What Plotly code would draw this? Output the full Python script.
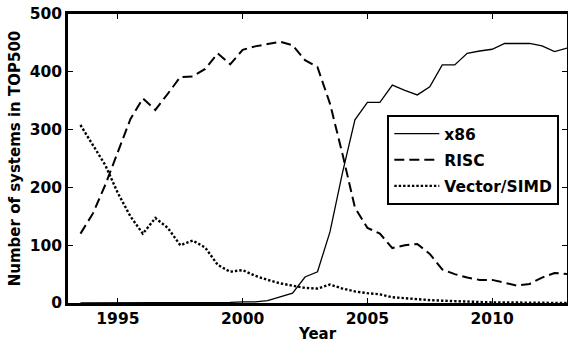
import plotly.graph_objects as go

years = [1993.5, 1994.0, 1994.5, 1995.0, 1995.5, 1996.0, 1996.5, 1997.0, 1997.5, 1998.0,
         1998.5, 1999.0, 1999.5, 2000.0, 2000.5, 2001.0, 2001.5, 2002.0, 2002.5, 2003.0,
         2003.5, 2004.0, 2004.5, 2005.0, 2005.5, 2006.0, 2006.5, 2007.0, 2007.5, 2008.0,
         2008.5, 2009.0, 2009.5, 2010.0, 2010.5, 2011.0, 2011.5, 2012.0, 2012.5, 2013.0]

x86 = [0, 0, 0, 0, 0, 0, 0, 0, 0, 0, 0, 0,
       1, 2, 2, 4, 10, 17, 45, 54, 123, 225, 317, 347, 347, 377, 368, 360, 374, 412,
       412, 432, 436, 439, 449, 449, 449, 445, 435, 441]

risc = [120, 155, 205, 262, 318, 354, 334, 362, 391, 392, 405, 432,
        413, 438, 444, 448, 452, 446, 420, 408, 345, 258, 165, 130, 120, 95, 100, 102, 85, 58,
        50, 44, 40, 40, 35, 30, 33, 44, 52, 50]

vector = [308, 272, 238, 190, 150, 120, 147, 130, 100, 108, 96, 66,
          54, 57, 47, 40, 34, 30, 26, 25, 32, 25, 20, 17, 15, 10, 8, 6, 5, 4,
          3, 2, 1, 1, 1, 1, 0, 0, 0, 0]

y_ticks = [0, 100, 200, 300, 400, 500]
x_ticks = [1995, 2000, 2005, 2010]

FONT = "DejaVu Sans"

fig = go.Figure()
fig.add_trace(go.Scatter(x=years, y=x86, mode="lines", name="x86", legendgroup="a",
                         line=dict(color="black", width=1.3)))
fig.add_trace(go.Scatter(x=years, y=risc, mode="lines", name="RISC", legendgroup="b",
                         line=dict(color="black", width=2, dash="10px,5px")))
fig.add_trace(go.Scatter(x=years, y=vector, mode="lines", name="Vector/SIMD", legendgroup="c",
                         line=dict(color="black", width=2.4, dash="2.4px,2px")))

axis_common = dict(
    showline=True, linecolor="black", linewidth=2.5, mirror="allticks",
    ticks="inside", ticklen=5, tickwidth=1, tickcolor="black",
    showgrid=False, zeroline=False,
    tickfont=dict(family=FONT, size=15.5, color="black", weight="bold"),
)

fig.update_layout(
    width=568, height=343,
    margin=dict(l=68, r=1, t=14, b=40, autoexpand=False),
    paper_bgcolor="white", plot_bgcolor="white",
    font=dict(family=FONT, color="black"),
    xaxis=dict(range=[1993, 2013], tickvals=x_ticks, ticktext=[str(t) for t in x_ticks],
               title=dict(text="Year", standoff=2,
                          font=dict(family=FONT, size=15, color="black", weight="bold")),
               **axis_common),
    yaxis=dict(range=[0, 500], tickvals=y_ticks, ticktext=[str(t) for t in y_ticks],
               title=dict(text="Number of systems in TOP500", standoff=6,
                          font=dict(family=FONT, size=15, color="black", weight="bold")),
               **axis_common),
    showlegend=True,
    legend=dict(x=0.9846, y=0.6505, xanchor="right", yanchor="top",
                bgcolor="white", bordercolor="black", borderwidth=2,
                font=dict(family=FONT, size=15.5, color="black", weight="bold"),
                traceorder="grouped", tracegroupgap=3, itemwidth=45),
)

fig.write_html("out.html", config={"displayModeBar": False},
               post_script="document.body.style.margin='0';")
